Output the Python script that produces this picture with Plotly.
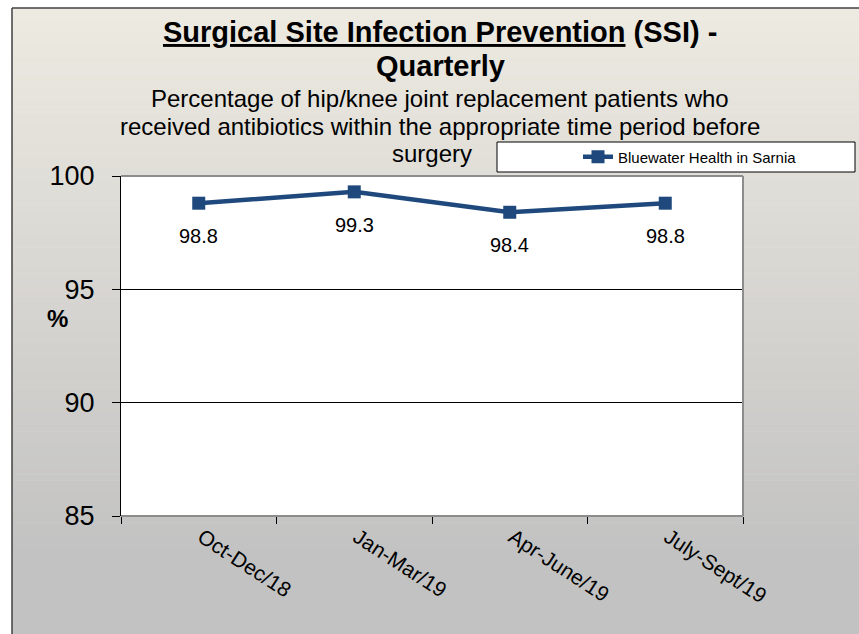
import plotly.graph_objects as go

categories = ["Oct-Dec/18", "Jan-Mar/19", "Apr-June/19", "July-Sept/19"]
values = [98.8, 99.3, 98.4, 98.8]
series_name = "Bluewater Health in Sarnia"
y_ticks = [85, 90, 95, 100]

# page-pixel geometry of the reference
W, H = 859, 634
L, R, T, B = 121, 743, 176, 516
pw, ph = R - L, B - T


def px(x):
    return (x - L) / pw


def py(y):
    return (B - y) / ph


FONT = "Liberation Sans, Arial, sans-serif"
LINE_COLOR = "#1F497D"

shapes = []
# gradient background (top beige -> bottom grey)
top = (237, 234, 225)
bot = (194, 194, 194)
g0, g1 = 8, 560
n = 90
for i in range(n):
    ya = g0 + (g1 - g0) * i / n
    yb = g0 + (g1 - g0) * (i + 1) / n + 0.6
    t = i / (n - 1)
    c = tuple(round(top[k] + (bot[k] - top[k]) * t) for k in range(3))
    shapes.append(dict(type="rect", xref="paper", yref="paper",
                       x0=px(12), x1=px(W + 5), y0=py(yb), y1=py(ya),
                       fillcolor="rgb(%d,%d,%d)" % c, line_width=0, layer="below"))
shapes.append(dict(type="rect", xref="paper", yref="paper",
                   x0=px(12), x1=px(W + 5), y0=py(H + 5), y1=py(g1),
                   fillcolor="rgb(%d,%d,%d)" % bot, line_width=0, layer="below"))
# plot area white
shapes.append(dict(type="rect", xref="paper", yref="paper", x0=0, x1=1, y0=0, y1=1,
                   fillcolor="white", line_width=0, layer="below"))
# outer frame
shapes.append(dict(type="line", xref="paper", yref="paper", x0=px(12), x1=px(12),
                   y0=py(8), y1=py(H + 5), line=dict(color="#404040", width=1.5)))
shapes.append(dict(type="line", xref="paper", yref="paper", x0=px(12), x1=px(W + 5),
                   y0=py(8), y1=py(8), line=dict(color="#404040", width=1.5)))
# plot border (top, right, bottom grey)
for (xa, ya_, xb, yb_) in [(0, 1, 1, 1), (1, 0, 1, 1), (0, 0, 1, 0)]:
    shapes.append(dict(type="line", xref="paper", yref="paper", x0=xa, y0=ya_, x1=xb, y1=yb_,
                       line=dict(color="#8C8C8C", width=2)))
# legend box
shapes.append(dict(type="rect", xref="paper", yref="paper",
                   x0=px(497), x1=px(855), y0=py(172), y1=py(142),
                   fillcolor="white", line=dict(color="black", width=1)))

fig = go.Figure()
fig.add_trace(go.Scatter(
    x=categories, y=values, mode="lines+markers", name=series_name,
    line=dict(color=LINE_COLOR, width=4.5),
    marker=dict(symbol="square", size=13, color=LINE_COLOR),
))

annotations = []
for c, v in zip(categories, values):
    annotations.append(dict(x=c, y=v, xref="x", yref="y", text=f"{v}", showarrow=False,
                            yshift=-33, font=dict(size=20, color="black", family=FONT)))

title_lines = [
    ("<b><u>Surgical Site Infection Prevention</u> (SSI) -</b>", 440, 32, 29),
    ("<b>Quarterly</b>", 440, 66, 29),
    ("Percentage of hip/knee joint replacement patients who", 440, 99, 24),
    ("received antibiotics within the appropriate time period before", 440, 126, 24),
    ("surgery", 432, 153, 24),
]
for txt, x, y, s in title_lines:
    annotations.append(dict(x=px(x), y=py(y), xref="paper", yref="paper", text=txt,
                            showarrow=False, xanchor="center", yanchor="middle",
                            font=dict(size=s, color="black", family=FONT)))
annotations.append(dict(x=px(57), y=py(318), xref="paper", yref="paper", text="<b>%</b>",
                        showarrow=False, xanchor="center", yanchor="middle",
                        font=dict(size=24, color="black", family=FONT)))

fig.update_layout(
    width=W, height=H,
    margin=dict(l=L, r=W - R, t=T, b=H - B, pad=0),
    paper_bgcolor="white", plot_bgcolor="rgba(0,0,0,0)",
    font=dict(family=FONT, color="black"),
    showlegend=True,
    legend=dict(orientation="h", x=px(578), y=py(157), xanchor="left", yanchor="middle",
                bgcolor="rgba(0,0,0,0)", borderwidth=0, font=dict(size=15, color="black")),
    shapes=shapes,
    annotations=annotations,
    xaxis=dict(type="category", range=[-0.5, 3.5], tickson="boundaries", ticks="outside",
               ticklen=7, tickcolor="black", tickwidth=1, showgrid=False, zeroline=False,
               showline=False, tickangle=33, tickfont=dict(size=21, color="black"),
               ticklabelstandoff=4, ticklabelshift=3),
    yaxis=dict(range=[85, 100], tickvals=y_ticks, ticks="outside", ticklen=8,
               tickcolor="black", tickwidth=1, showgrid=True, gridcolor="black", gridwidth=1,
               zeroline=False, showline=True, linecolor="black", linewidth=1,
               tickfont=dict(size=27, color="black"), ticklabelstandoff=12),
)

fig.write_html(
    "out.html",
    config={"displayModeBar": False},
    post_script="document.body.style.margin='0';document.body.style.overflow='hidden';",
)
